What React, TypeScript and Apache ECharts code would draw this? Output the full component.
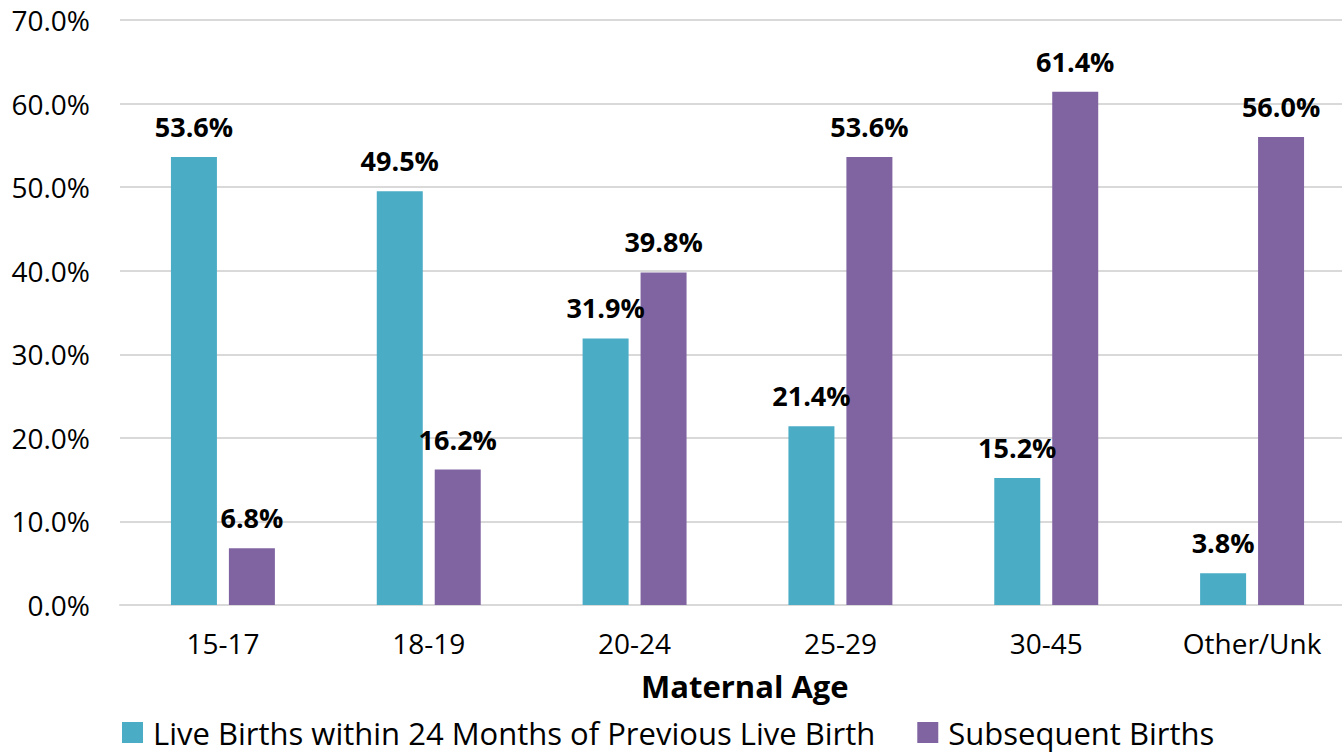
import React, { useEffect, useRef } from "react";
import * as echarts from "echarts";

const categories = ["15-17", "18-19", "20-24", "25-29", "30-45", "Other/Unk"];
const liveBirths24 = [53.6, 49.5, 31.9, 21.4, 15.2, 3.8];
const subsequentBirths = [6.8, 16.2, 39.8, 53.6, 61.4, 56.0];
const seriesNames = ["Live Births within 24 Months of Previous Live Birth", "Subsequent Births"];
const colors = ["#4BACC6", "#8064A2"];
const xTitle = "Maternal Age";

const FONT = "'Open Sans', 'Noto Sans', sans-serif";

export default function App() {
  const ref = useRef<HTMLDivElement>(null);
  useEffect(() => {
    if (!ref.current) return;
    const chart = echarts.init(ref.current, null, { renderer: "svg" });
    const label = {
      show: true,
      position: "top",
      distance: 17,
      color: "#000",
      fontFamily: FONT,
      fontWeight: "bold",
      fontSize: 27,
      formatter: (p: any) => Number(p.value).toFixed(1) + "%",
    };
    chart.setOption({
      animation: false,
      backgroundColor: "#fff",
      grid: { left: 120, width: 1235, top: 20, height: 585, containLabel: false },
      legend: {
        left: 117,
        top: 712,
        itemWidth: 21,
        itemHeight: 21,
        itemGap: 42,
        icon: "rect",
        textStyle: { fontFamily: FONT, fontSize: 31, lineHeight: 31, color: "#000", padding: [0, 0, 0, 5] },
        data: seriesNames,
      },
      xAxis: {
        type: "category",
        data: categories,
        axisLine: { lineStyle: { color: "#d9d9d9", width: 2 } },
        axisTick: { show: false },
        axisLabel: { fontFamily: FONT, fontSize: 28, color: "#000", margin: 24 },
      },
      yAxis: {
        type: "value",
        min: 0,
        max: 70,
        interval: 10,
        axisLine: { show: false },
        axisTick: { show: false },
        splitLine: { lineStyle: { color: "#d9d9d9", width: 2 } },
        axisLabel: {
          fontFamily: FONT,
          fontSize: 28,
          color: "#000",
          margin: 30,
          formatter: (v: number) => v.toFixed(1) + "%",
        },
      },
      graphic: [
        {
          type: "text",
          left: 641,
          top: 670,
          style: { text: xTitle, fontFamily: FONT, fontWeight: "bold", fontSize: 31, fill: "#000" },
        },
      ],
      series: [
        {
          name: seriesNames[0],
          type: "bar",
          data: liveBirths24,
          barWidth: 46,
          barGap: "26%",
          itemStyle: { color: colors[0] },
          label,
        },
        {
          name: seriesNames[1],
          type: "bar",
          data: subsequentBirths,
          barWidth: 46,
          itemStyle: { color: colors[1] },
          label,
        },
      ],
    });
    return () => chart.dispose();
  }, []);
  return (
    <div style={{ position: "absolute", left: 0, top: 0, width: 1342, height: 756, overflow: "hidden" }}>
      <div ref={ref} style={{ width: 1360, height: 756 }} />
    </div>
  );
}
